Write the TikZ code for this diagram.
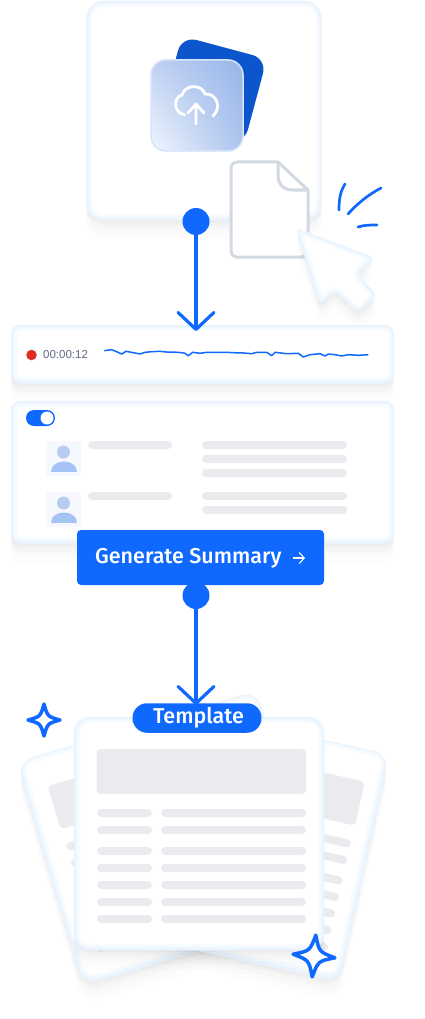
\documentclass[tikz,border=0pt]{standalone}
\usepackage{fontspec}
\setmainfont{Liberation Sans}
\newfontfamily\btnfont[UprightFont=* Medium]{Fira Sans}
\usetikzlibrary{arrows.meta,shadows,shadings}
\definecolor{FlowBlue}{HTML}{1069FF}
\definecolor{DeepBlue}{HTML}{0C55CC}
\definecolor{CardEdge}{HTML}{E9F4FF}
\definecolor{CardMid}{HTML}{F2F9FF}
\definecolor{CardHalo}{HTML}{F9FCFF}
\definecolor{BarGray}{HTML}{EAEBEF}
\definecolor{FileGray}{HTML}{D2D9E2}
\definecolor{TimeGray}{HTML}{5B6B82}
\definecolor{RecRed}{HTML}{DE2C20}
\definecolor{AvatarBack}{HTML}{F5F8FD}
\definecolor{AvatarHead}{HTML}{B8CBF0}
\definecolor{AvatarBody}{HTML}{A6C3F5}
\tikzset{
  softshadow/.style={
    drop shadow={shadow xshift=0pt,shadow yshift=-2pt,opacity=.025,fill=black},
    drop shadow={shadow xshift=0pt,shadow yshift=-5pt,opacity=.02,fill=black},
    drop shadow={shadow xshift=0pt,shadow yshift=-9pt,opacity=.015,fill=black},
    drop shadow={shadow xshift=0pt,shadow yshift=-14pt,opacity=.012,fill=black},
    drop shadow={shadow xshift=0pt,shadow yshift=-20pt,opacity=.008,fill=black}},
  card/.style={softshadow,fill=white,inner sep=0pt,rounded corners=#1,
    path picture={
      \foreach \edgewidth/\edgecolor in {12pt/CardHalo,8pt/CardMid,4pt/CardEdge}
        \draw[draw=\edgecolor,line width=\edgewidth,rounded corners=#1,yshift=1pt]
          (path picture bounding box.north west) rectangle (path picture bounding box.south east);
    }},
  card/.default=10pt,
  bar/.style={fill=BarGray,rounded corners=4pt},
  flow/.style={draw=FlowBlue,line width=3.2pt,-{Straight Barb[round,length=17pt,width=36pt]}},
  flowdot/.style={circle,fill=FlowBlue,minimum size=27pt,inner sep=0pt},
  tick/.style={draw=FlowBlue,line width=2.7pt,line cap=round},
  sheet/.style={card=16pt,minimum width=250pt,minimum height=233pt},
}
\newcommand{\sheetbars}{
  \fill[bar] (-102.5,-84.5) rectangle (107,-39.5);
  \foreach \rowy in {-20.5,-3.5,17.5,34.5,51.5,68.5,85.5} {
    \fill[bar] (-102,\rowy-4) rectangle (-47,\rowy+4);
    \fill[bar] (-38,\rowy-4) rectangle (107,\rowy+4);
  }
}
\newcommand{\backsheet}[2]{
  \begin{scope}[shift={(#1)},rotate=#2]
    \path[softshadow,fill=white,rounded corners=16pt] (-125,-116.5) rectangle (125,116.5);
    \begin{scope}
      \clip[rounded corners=16pt] (-125,-116.5) rectangle (125,116.5);
      \foreach \edgewidth/\edgecolor in {12pt/CardHalo,8pt/CardMid,4pt/CardEdge}
        \draw[draw=\edgecolor,line width=\edgewidth,rounded corners=16pt,yshift=1pt]
          (-125,-116.5) rectangle (125,116.5);
    \end{scope}
    \sheetbars
  \end{scope}
}
\newcommand{\sparkle}[3]{
  \begin{scope}[shift={(#1)},rotate=#3]
    \draw[draw=FlowBlue,fill=white,line width=3.5pt,line join=round]
      (0,-#2) .. controls (.22*#2,-.22*#2) and (.22*#2,-.22*#2) .. (#2,0)
      .. controls (.22*#2,.22*#2) and (.22*#2,.22*#2) .. (0,#2)
      .. controls (-.22*#2,.22*#2) and (-.22*#2,.22*#2) .. (-#2,0)
      .. controls (-.22*#2,-.22*#2) and (-.22*#2,-.22*#2) .. cycle;
  \end{scope}
}
\newcommand{\avatar}[1]{
  \begin{scope}[yshift=-#1pt]
    \fill[AvatarBack,rounded corners=3pt] (46,441) rectangle (81,476);
    \fill[AvatarHead] (63.5,452) circle (6.5);
    \fill[AvatarBody] (51,471.5) .. controls (51,458) and (77,458) .. (77,471.5) -- cycle;
    \fill[bar] (88,441) rectangle (172,449);
  \end{scope}
}
\newcommand{\pointerpath}{(296,228) -- (375,258) -- (357,274) -- (377,295) -- (358,313) -- (335,291) -- (320,305) -- cycle}
\begin{document}
\begin{tikzpicture}[x=1pt,y=-1pt]
  \useasboundingbox (0,0) rectangle (425,1019);
  % upload card
  \node[card=17pt,minimum width=235pt,minimum height=219pt] (uploadcard) at (204,110.5) {};
  \node[fill=DeepBlue,rounded corners=15pt,minimum size=88pt,rotate=-15] (backtile) at (213,90) {};
  \node[rounded corners=15pt,minimum size=92pt,inner sep=0pt,
    upper right=AvatarHead!55!DeepBlue!70!white,upper left=AvatarHead!90!white,
    lower left=AvatarBack!60!CardEdge,lower right=AvatarHead!85!DeepBlue!85!white] (fronttile) at (197,105.5) {};
  \draw[CardEdge!60!AvatarHead,line width=1.5pt,rounded corners=15pt] (151,60) rectangle (243,151);
  \draw[white,line width=2.8pt,line cap=round]
    (185,115) .. controls (173,113) and (173,97) .. (182,95)
    .. controls (185,84) and (202,84) .. (205,94)
    .. controls (217,93) and (222,108) .. (213,116);
  \draw[white,line width=2.8pt,line cap=round,line join=round]
    (196,124) -- (196,104) (188,113) -- (196,104) -- (204,113);
  % file and pointer
  \draw[FileGray,fill=white,line width=3pt,rounded corners=6pt]
    (278,162) -- (231,162) -- (231,257) -- (308,257) -- (308,190);
  \draw[FileGray,fill=white,line width=3pt,line join=round]
    (278,162) -- (308,190) -- (293,190) .. controls (283,190) and (278,184) .. (278,175) -- cycle;
  \path[softshadow,fill=white,rounded corners=5pt] \pointerpath;
  \begin{scope}
    \clip[rounded corners=5pt] \pointerpath;
    \foreach \edgewidth/\edgecolor in {10pt/CardHalo,6.5pt/CardMid,3.5pt/CardEdge}
      \draw[draw=\edgecolor,line width=\edgewidth,rounded corners=5pt] \pointerpath;
  \end{scope}
  \draw[tick] (345,184) .. controls (340,192) and (339,200) .. (339,210);
  \draw[tick] (348,214) .. controls (358,203) and (368,195) .. (381,188);
  \draw[tick] (358,227) .. controls (364,225) and (370,225) .. (377,225);
  % recording strip
  \node[card=9pt,minimum width=383pt,minimum height=58pt] (recstrip) at (202.5,354) {};
  \node[circle,fill=RecRed,minimum size=10.5pt,inner sep=0pt] (recdot) at (31.5,355) {};
  \node[anchor=west,inner sep=0pt,text=TimeGray,font=\fontsize{11.5}{13}\selectfont] (rectime) at (43,355) {00:00:12};
  \draw[FlowBlue,line width=1.5pt,line join=round] plot coordinates {
    (104.3,350.7) (111.7,349.7) (116.7,351.7) (121.7,354) (126,351.3) (133.3,352.7)
    (140,354) (145,352.3) (151.7,351.7) (160,351.3) (166.7,352) (173.3,352)
    (181.7,352.7) (185,353.3) (188.3,355.7) (192.7,352.3) (200,353.3) (206.7,352.3)
    (216.7,352.3) (226.7,352.3) (233.3,352.7) (243.3,353) (251.7,353.7) (256.7,352.3)
    (266.7,352.3) (271.7,355.7) (275,352.3) (286.7,353.7) (298.3,353.3) (303.3,357)
    (310,354.7) (320,353.7) (325,356) (328.3,354) (335,354.7) (341.7,356)
    (348.3,354.7) (358.3,355.3) (368.3,354.7)};
  % speaker panel
  \node[card=9pt,minimum width=383pt,minimum height=142pt] (speakerpanel) at (202.5,472) {};
  \node[fill=FlowBlue,rounded corners=8pt,minimum width=29pt,minimum height=16pt,inner sep=0pt] (toggle) at (40.5,418) {};
  \node[circle,fill=white,minimum size=13pt,inner sep=0pt] (toggleknob) at (47,418) {};
  \avatar{0}
  \avatar{51}
  \foreach \bary in {441,455,469,492,506}
    \fill[bar] (202,\bary) rectangle (347,\bary+8);
  % template sheets
  \backsheet{170,838}{16.5}
  \backsheet{242,841}{-12.5}
  \node[sheet] (frontsheet) at (199,833.5) {};
  \begin{scope}[shift={(199,833.5)}]
    \sheetbars
  \end{scope}
  % button and connectors
  \node[fill=FlowBlue,rounded corners=4pt,minimum width=247pt,minimum height=55pt,inner sep=0pt] (genbtn) at (200.5,557.5) {};
  \node[anchor=west,inner sep=0pt,text=white,font=\btnfont\fontsize{21.5}{25}\selectfont] (gentext) at (95,558.5) {Generate Summary};
  \coordinate (genarrowstart) at (293,558);
  \coordinate (genarrowend) at (305,558);
  \draw[white,line width=1.1pt,-{Straight Barb[length=5pt,width=11pt]}] (genarrowstart) -- (genarrowend);
  \node[flowdot] (dotone) at (196,221.5) {};
  \node[flowdot] (dottwo) at (196,595.5) {};
  \coordinate (tipone) at (196,331);
  \coordinate (tiptwo) at (196,705);
  \draw[flow] (dotone) -- (tipone);
  \draw[flow] (dottwo) -- (tiptwo);
  \node[fill=FlowBlue,rounded corners=14.5pt,minimum width=129pt,minimum height=29.5pt,inner sep=0pt] (templatepill) at (197,718) {};
  \node[inner sep=0pt,text=white,font=\btnfont\fontsize{21.5}{25}\selectfont] (templatetext) at (198.5,717.5) {Template};
  % sparkles
  \sparkle{44,720}{16}{0}
  \sparkle{314,956}{21}{-5}
\end{tikzpicture}
\end{document}
